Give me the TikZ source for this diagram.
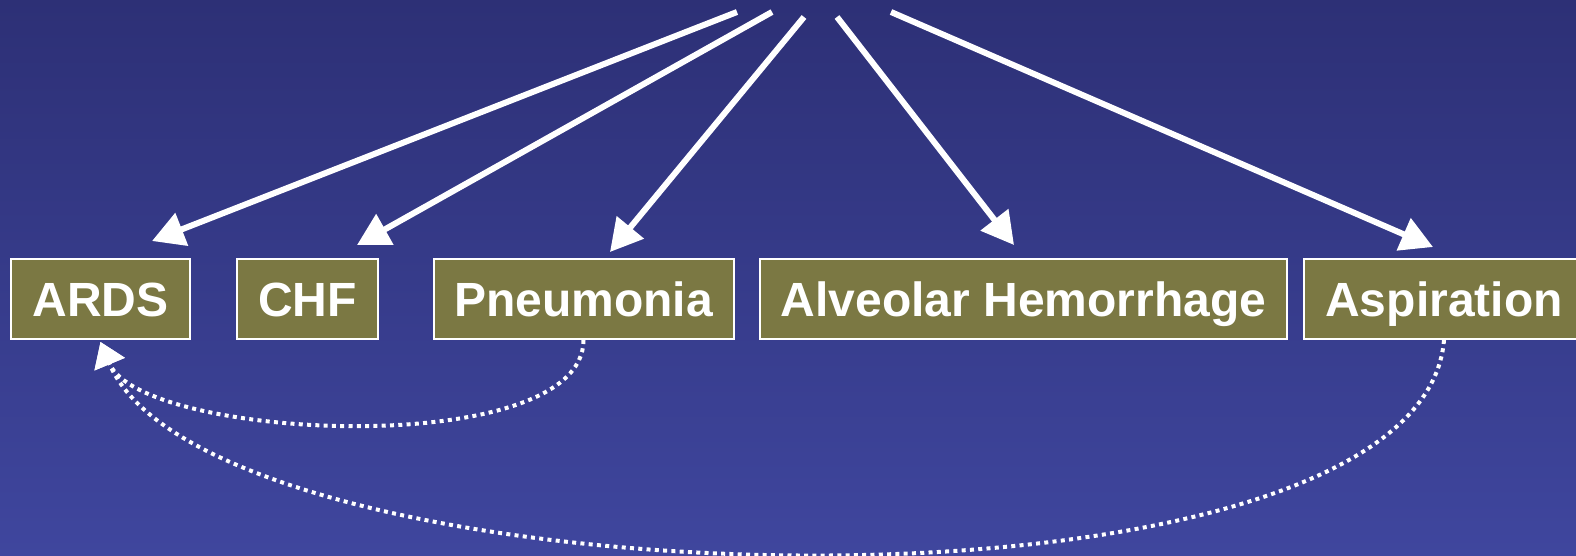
\documentclass[tikz,border=0pt]{standalone}
\usepackage{fontspec}
\setmainfont{Liberation Sans}
\usetikzlibrary{arrows.meta,positioning}
\definecolor{bgtop}{RGB}{45,48,118}
\definecolor{bgbot}{RGB}{63,70,158}
\definecolor{dxolive}{RGB}{123,120,67}

\begin{document}
\begin{tikzpicture}[x=1pt, y=-1pt,
  dx/.style={draw=white, line width=2pt, fill=dxolive, text=white, inner sep=0pt,
    minimum height=80pt, text height=34.5pt, text depth=0pt,
    font=\fontsize{48}{57}\selectfont\bfseries},
  cause/.style={draw=white, line width=6pt, -{Triangle[length=32pt, width=34pt]}},
  lead/.style={draw=white, line width=4pt, dash pattern=on 4pt off 4.3pt,
    -{Triangle[length=24pt, width=32pt]}}]
% Background
\useasboundingbox (0,0) rectangle (1576,555);
\clip (0,0) rectangle (1576,555);
\fill[top color=bgtop, bottom color=bgbot] (0,0) rectangle (1576,555);
% Diagnoses
\node[dx, minimum width=179pt] (ards) at (100.5,299) {ARDS};
\node[dx, minimum width=141pt] (chf) at (307.5,299) {CHF};
\node[dx, minimum width=300pt] (pneu) at (583.5,299) {Pneumonia};
\node[dx, minimum width=527pt] (alv) at (1023.5,299) {Alveolar Hemorrhage};
\node[dx, minimum width=280pt] (asp) at (1444,299) {Aspiration};
% Free ends at the top
\coordinate (s1) at (737,12);
\coordinate (s2) at (772,12);
\coordinate (s3) at (804,17);
\coordinate (s4) at (837,17);
\coordinate (s5) at (891,12);
% Arrows
\draw[cause] (s1) -- ([xshift=51.5pt, yshift=17pt]ards.north);
\draw[cause] (s2) -- ([xshift=49.5pt, yshift=13pt]chf.north);
\draw[cause] (s3) -- ([xshift=26.5pt, yshift=6pt]pneu.north);
\draw[cause] (s4) -- ([xshift=-9.5pt, yshift=13pt]alv.north);
\draw[cause] (s5) -- ([xshift=-11pt, yshift=11pt]asp.north);
% Dotted links back to ARDS
\draw[lead] (pneu.south) .. controls +(0,121) and +(41,99) .. ([yshift=-2pt]ards.south);
\draw[lead] (asp.south) .. controls +(-24,300) and +(110,265) .. ([yshift=-2pt]ards.south);
\end{tikzpicture}
\end{document}
